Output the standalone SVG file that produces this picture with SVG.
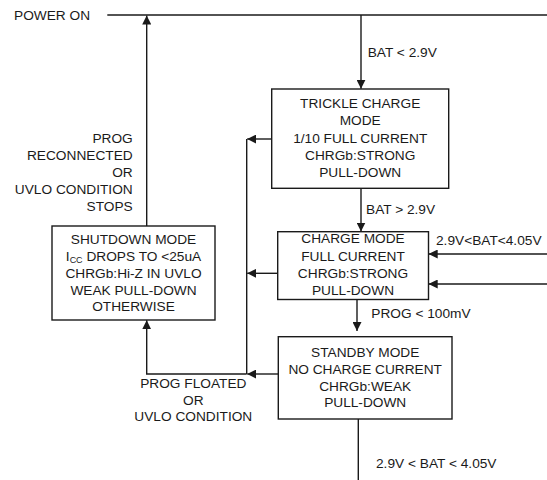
<svg xmlns="http://www.w3.org/2000/svg" width="547" height="480" viewBox="0 0 547 480">
<defs>
<style>
text{font-family:"Liberation Sans",Arial,sans-serif;font-size:13.7px;fill:#1a1a1a}
.c{text-anchor:middle}
.r{text-anchor:end}
.box{fill:#fff;stroke:#1a1a1a;stroke-width:1.4}
.ln{fill:none;stroke:#1a1a1a;stroke-width:1.4}
.sub{font-size:9px}
</style>
<marker id="ah" viewBox="0 0 9 9" refX="9" refY="4.5" markerWidth="9" markerHeight="9" markerUnits="userSpaceOnUse" orient="auto">
<path d="M0,0 L9,4.5 L0,9 z" fill="#1a1a1a"/>
</marker>
</defs>
<rect width="547" height="480" fill="#fff"/>
<g id="connectors">
<line class="ln" x1="107.3" y1="15" x2="547" y2="15"/>
<line class="ln" x1="361" y1="15" x2="361" y2="88.8" marker-end="url(#ah)"/>
<line class="ln" x1="146.7" y1="226" x2="146.7" y2="15.5" marker-end="url(#ah)"/>
<line class="ln" x1="271.7" y1="139" x2="247.2" y2="139" marker-end="url(#ah)"/>
<line class="ln" x1="246.7" y1="139" x2="246.7" y2="374"/>
<line class="ln" x1="361" y1="188.3" x2="361" y2="231.5" marker-end="url(#ah)"/>
<line class="ln" x1="277.7" y1="273.3" x2="247.2" y2="273.3" marker-end="url(#ah)"/>
<line class="ln" x1="547" y1="254" x2="428.7" y2="254" marker-end="url(#ah)"/>
<line class="ln" x1="547" y1="284" x2="428.7" y2="284" marker-end="url(#ah)"/>
<line class="ln" x1="357" y1="299.5" x2="357" y2="331" marker-end="url(#ah)"/>
<line class="ln" x1="278.3" y1="374" x2="247.2" y2="374" marker-end="url(#ah)"/>
<polyline class="ln" points="246.7,374 146.7,374 146.7,320.3" marker-end="url(#ah)"/>
<line class="ln" x1="358.3" y1="419" x2="358.3" y2="480"/>
</g>
<g id="labels">
<text x="14" y="19.9">POWER ON</text>
<text x="367.7" y="57.2">BAT &lt; 2.9V</text>
<text x="366" y="213.9">BAT &gt; 2.9V</text>
<text x="436" y="244.9">2.9V&lt;BAT&lt;4.05V</text>
<text x="371.3" y="317.9">PROG &lt; 100mV</text>
<text x="376" y="468.2">2.9V &lt; BAT &lt; 4.05V</text>
<text class="r" x="132.7" y="142.6">PROG</text>
<text class="r" x="132.7" y="159.8">RECONNECTED</text>
<text class="r" x="132.7" y="177">OR</text>
<text class="r" x="132.7" y="194.2">UVLO CONDITION</text>
<text class="r" x="132.7" y="211.4">STOPS</text>
<text class="c" x="193.3" y="388.2">PROG FLOATED</text>
<text class="c" x="193.3" y="404.9">OR</text>
<text class="c" x="193.3" y="421.2">UVLO CONDITION</text>
</g>
<g id="trickle">
<rect class="box" x="271.7" y="89" width="177" height="99.3"/>
<text class="c" x="360.2" y="108.2">TRICKLE CHARGE</text>
<text class="c" x="360.2" y="125.4">MODE</text>
<text class="c" x="360.2" y="142.7">1/10 FULL CURRENT</text>
<text class="c" x="360.2" y="159.9">CHRGb:STRONG</text>
<text class="c" x="360.2" y="177.2">PULL-DOWN</text>
</g>
<g id="charge">
<rect class="box" x="277.7" y="231.7" width="150.8" height="67.8"/>
<text class="c" x="353" y="243.4">CHARGE MODE</text>
<text class="c" x="353" y="260.6">FULL CURRENT</text>
<text class="c" x="353" y="277.8">CHRGb:STRONG</text>
<text class="c" x="353" y="295">PULL-DOWN</text>
</g>
<g id="shutdown">
<rect class="box" x="52" y="226" width="163" height="94"/>
<text class="c" x="133.5" y="244.4">SHUTDOWN MODE</text>
<text class="c" x="133.5" y="261.1">I<tspan class="sub" dy="2">CC</tspan><tspan dy="-2"> DROPS TO &lt;25uA</tspan></text>
<text class="c" x="133.5" y="277.8">CHRGb:Hi-Z IN UVLO</text>
<text class="c" x="133.5" y="294.5">WEAK PULL-DOWN</text>
<text class="c" x="133.5" y="311.2">OTHERWISE</text>
</g>
<g id="standby">
<rect class="box" x="278.3" y="336.7" width="173.7" height="82.3"/>
<text class="c" x="365.2" y="356.6">STANDBY MODE</text>
<text class="c" x="365.2" y="373.9">NO CHARGE CURRENT</text>
<text class="c" x="365.2" y="390.9">CHRGb:WEAK</text>
<text class="c" x="365.2" y="407.2">PULL-DOWN</text>
</g>
</svg>
